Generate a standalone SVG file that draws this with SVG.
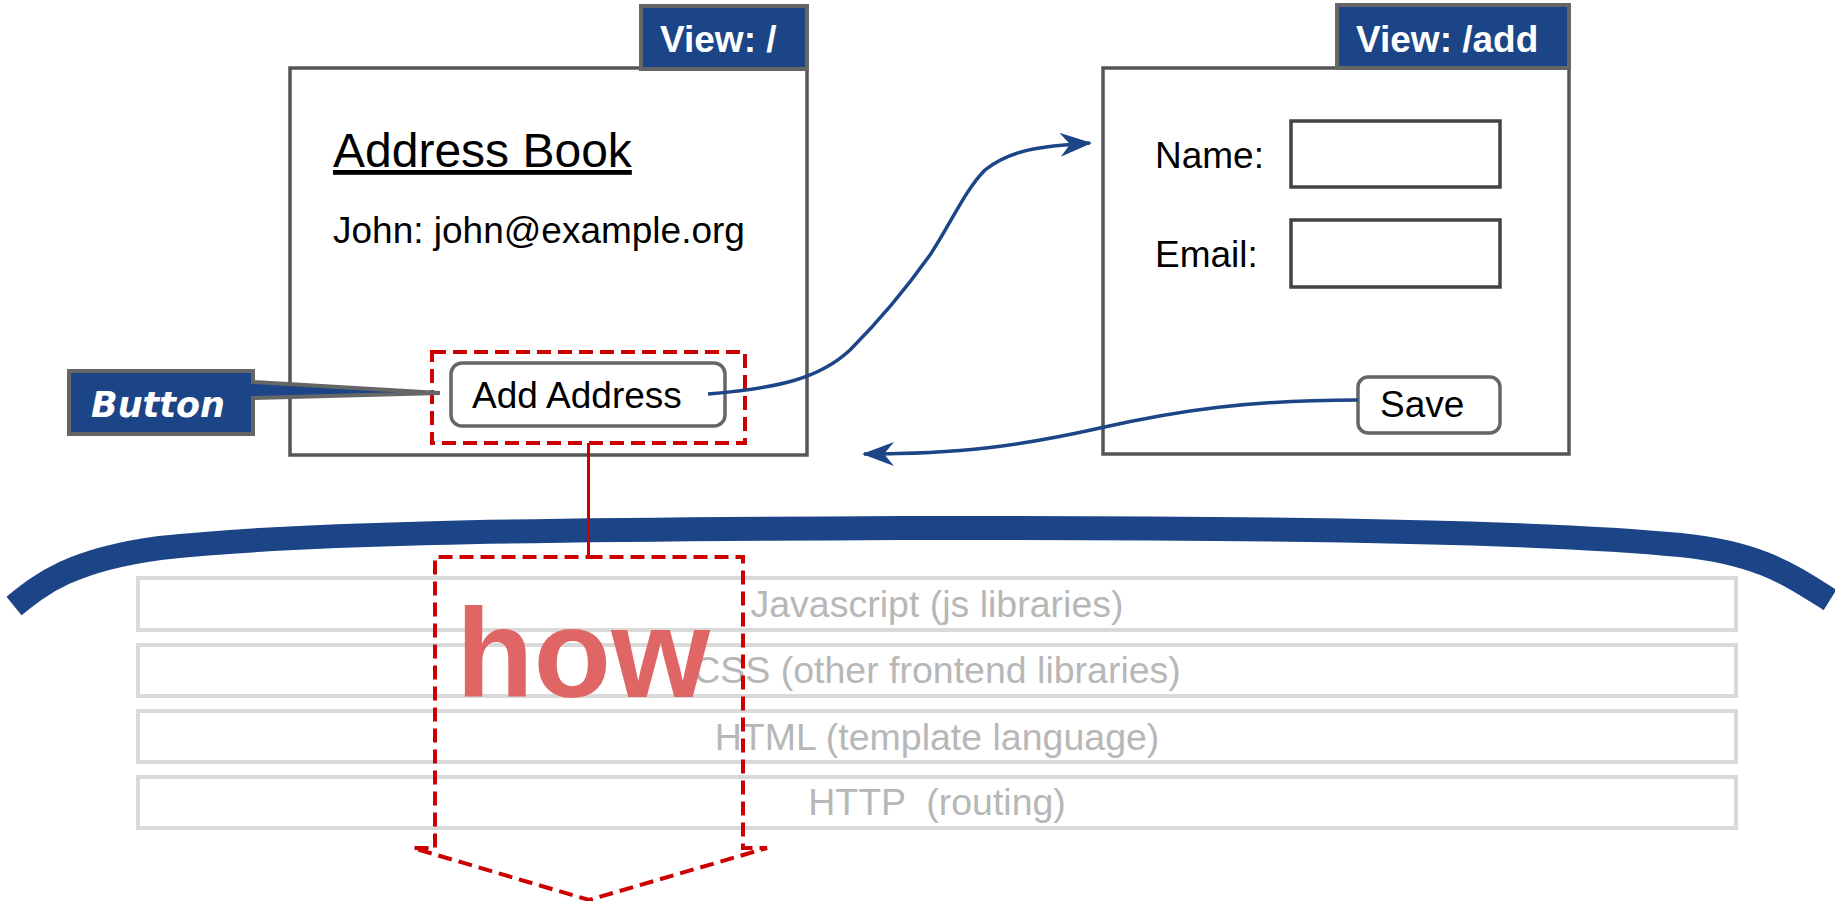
<svg xmlns="http://www.w3.org/2000/svg" width="1835" height="901" viewBox="0 0 1835 901">
<style>
  .frame{fill:#ffffff;stroke:#555555;stroke-width:3.5}
  .tab{fill:#1c4587;stroke:#666666;stroke-width:4}
  .tabtxt{font-family:"Liberation Sans",Arial,sans-serif;font-weight:bold;font-size:37px;fill:#ffffff}
  .txt{font-family:"Liberation Sans",Arial,sans-serif;font-size:37px;fill:#000000}
  .btn{fill:#ffffff;stroke:#666666;stroke-width:3.5}
  .input{fill:#ffffff;stroke:#434343;stroke-width:3.5}
  .layer{fill:#ffffff;stroke:#d9d9d9;stroke-width:4}
  .layertxt{font-family:"Liberation Sans",Arial,sans-serif;font-size:37.5px;fill:#b7b7b7;text-anchor:middle}
  .conn{fill:none;stroke:#1c4587;stroke-width:3.5}
  .reddash{fill:none;stroke:#cc0000;stroke-width:4;stroke-dasharray:14 7}
</style>
<defs>
  <marker id="arrow" markerUnits="userSpaceOnUse" viewBox="0 0 32 24" refX="30" refY="12" markerWidth="32" markerHeight="24" orient="auto">
    <path d="M0,0 L32,12 L0,24 L10,12 Z" fill="#1c4587"/>
  </marker>
</defs>

<!-- layers -->
<g id="layers">
  <rect class="layer" x="138" y="578" width="1598" height="52"/>
  <rect class="layer" x="138" y="645" width="1598" height="51"/>
  <rect class="layer" x="138" y="711" width="1598" height="51"/>
  <rect class="layer" x="138" y="777" width="1598" height="51"/>
  <text class="layertxt" x="937" y="617">Javascript (js libraries)</text>
  <text class="layertxt" x="937" y="683">CSS (other frontend libraries)</text>
  <text class="layertxt" x="937" y="750">HTML (template language)</text>
  <text class="layertxt" x="937" y="815" xml:space="preserve">HTTP  (routing)</text>
</g>

<!-- brace -->
<g id="brace">
  <path d="M14,606 C40,585 70,560 160,548 C300,533 500,530 900,528 C1300,527 1560,533 1680,545 C1760,553 1790,575 1830,600" fill="none" stroke="#1c4587" stroke-width="24"/>
</g>

<!-- view / -->
<g id="view-root">
  <rect class="frame" x="290" y="68" width="517" height="387"/>
  <rect class="tab" x="641" y="6" width="166" height="63"/>
  <text class="tabtxt" x="660" y="52">View: /</text>
  <text class="txt" x="333" y="167" text-decoration="underline" style="font-size:48px">Address Book</text>
  <text class="txt" x="333" y="243">John: john@example.org</text>
</g>

<!-- view /add -->
<g id="view-add">
  <rect class="frame" x="1103" y="68" width="466" height="386"/>
  <rect class="tab" x="1337" y="5" width="232" height="63"/>
  <text class="tabtxt" x="1356" y="52">View: /add</text>
  <text class="txt" x="1155" y="168">Name:</text>
  <text class="txt" x="1155" y="267">Email:</text>
  <rect class="input" x="1291" y="121" width="209" height="66"/>
  <rect class="input" x="1291" y="220" width="209" height="67"/>
</g>

<g id="save-button">
  <rect class="btn" x="1358" y="377" width="142" height="56" rx="10"/>
  <text class="txt" x="1380" y="417">Save</text>
</g>

<g id="add-address-button">
  <rect class="reddash" x="432" y="352" width="313" height="91"/>
  <rect class="btn" x="451" y="363" width="274" height="63" rx="11"/>
  <text class="txt" x="472" y="408">Add Address</text>
</g>

<g id="button-callout">
  <path d="M69,371 H253 V382 L440,393 L253,398 V434 H69 Z" fill="#1c4587" stroke="#666666" stroke-width="4"/>
  <text x="91" y="417" font-family="'DejaVu Sans',Verdana,sans-serif" font-weight="bold" font-style="italic" font-size="35" fill="#ffffff">Button</text>
</g>

<!-- how -->
<g id="how">
  <line x1="588.5" y1="443" x2="588.5" y2="557" stroke="#cc0000" stroke-width="3"/>
  <text x="456" y="697" font-family="'Liberation Sans',Arial,sans-serif" font-weight="bold" font-size="127" fill="#e06666">how</text>
  <path class="reddash" d="M588.5,557 H743 V848 H767 L589,900 L413,848 H435 V557 Z"/>
</g>

<!-- connectors -->
<g id="connectors">
  <path class="conn" marker-end="url(#arrow)" d="M708,394 C780,388 820,378 850,350 C880,320 905,290 930,255 C950,225 965,190 985,170 C1010,150 1040,146 1090,143"/>
  <path class="conn" marker-end="url(#arrow)" d="M1358,400 C1250,400 1180,410 1100,428 C1020,446 960,454 864,454"/>
</g>
</svg>
